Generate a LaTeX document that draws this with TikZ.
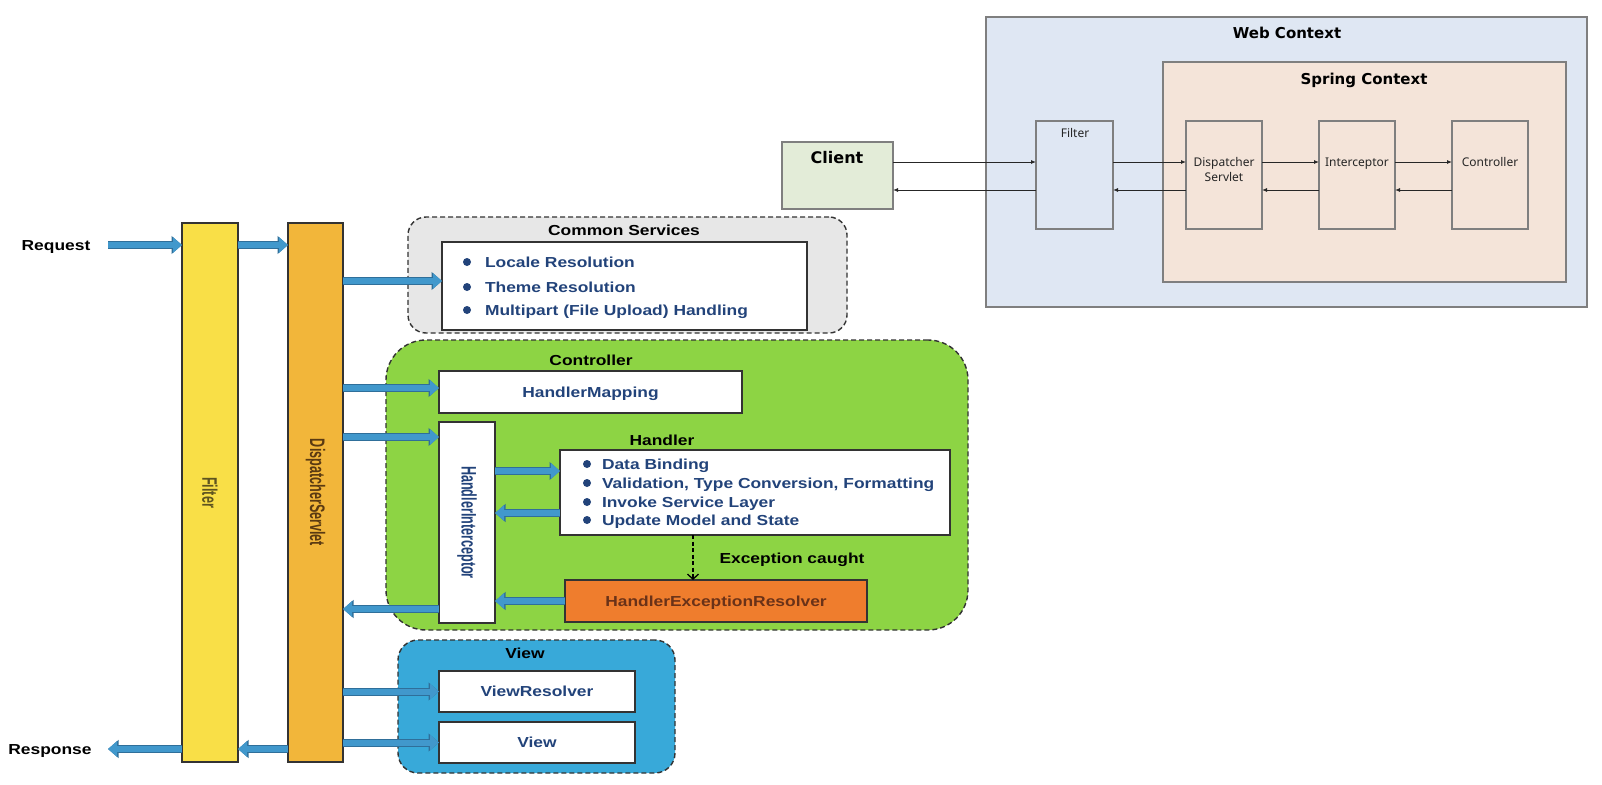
\documentclass[tikz,border=0pt]{standalone}
\usepackage{fontspec}
\setmainfont{Liberation Sans}
\newfontfamily\wf[FakeStretch=1.2]{Liberation Sans}
\newfontfamily\cf[FakeStretch=0.6]{Liberation Sans}
\newfontfamily\nf{Noto Sans}
\newfontfamily\df{DejaVu Sans}
\usetikzlibrary{arrows.meta}
\definecolor{filterY}{HTML}{F9DF47}
\definecolor{dsO}{HTML}{F2B63A}
\definecolor{csGray}{HTML}{E7E7E7}
\definecolor{ctrlG}{HTML}{8DD444}
\definecolor{viewB}{HTML}{38A9D9}
\definecolor{herO}{HTML}{EF7D2D}
\definecolor{arrowB}{HTML}{4198CC}
\definecolor{arrowD}{HTML}{2F6F9A}
\definecolor{navy}{HTML}{22437A}
\definecolor{webBlue}{HTML}{DFE7F3}
\definecolor{springP}{HTML}{F4E4D9}
\definecolor{clientG}{HTML}{E3ECD8}
\definecolor{edge}{HTML}{333333}
\definecolor{gedge}{HTML}{7F7F7F}
\definecolor{filtT}{HTML}{5E5420}
\definecolor{dsT}{HTML}{5A3A12}
\definecolor{herT}{HTML}{6A3218}
\newcommand\LFont{\wf\bfseries\fontsize{14.5}{17}\selectfont}
\newcommand\CFont{\cf\bfseries\fontsize{21}{23}\selectfont}
\newcommand\mybox[6]{\node[#2, anchor=north west, minimum width=#5pt, minimum height=#6pt] (#1) at (#3,#4) {};}
\tikzset{
  every node/.style={inner sep=0pt, outer sep=0pt},
  bar/.style={draw=edge, line width=1.5pt, fill=#1},
  zone/.style={draw=edge, line width=1.4pt, dash pattern=on 5pt off 3pt, fill=#1},
  wbox/.style={draw=edge, line width=1.6pt, fill=white},
  gbox/.style={draw=gedge, line width=1.1pt, fill=#1},
  barrow/.style={line width=6pt, draw=arrowB, -{Triangle[length=9pt,width=15pt]},
     preaction={draw=arrowD, line width=8pt, -{Triangle[length=10.5pt,width=17.5pt]}}},
  tarrow/.style={draw=black!85, line width=0.9pt, -{Latex[length=5pt,width=4pt]}},
  ltext/.style={font=\LFont, text=black, anchor=base},
  itext/.style={font=\LFont, text=navy, anchor=base west},
  ctext/.style={font=\LFont, text=navy, anchor=base},
  rtext/.style={font=\CFont, rotate=-90},
  ttext/.style={font=\df\bfseries\fontsize{15}{18}\selectfont, anchor=base},
  stext/.style={font=\nf\fontsize{12}{15}\selectfont, anchor=base, text=black!85},
}
\begin{document}
\begin{tikzpicture}[x=1pt,y=-1pt]
\useasboundingbox[fill=white] (0,0) rectangle (1602,784);

% ---------- left diagram ----------
\mybox{csout}{zone=csGray, rounded corners=18pt}{408}{217}{439}{116}
\mybox{ctrlout}{zone=ctrlG, rounded corners=40pt}{386}{340}{582}{290}
\mybox{viewout}{zone=viewB, rounded corners=20pt}{398}{640}{277}{133}

\mybox{filter}{bar=filterY}{182}{223}{56}{539}
\mybox{ds}{bar=dsO}{288}{223}{55}{539}

\mybox{csin}{wbox}{442}{242}{365}{88}
\mybox{hm}{wbox}{439}{371}{303}{42}
\mybox{hi}{wbox}{439}{422}{56}{201}
\mybox{handler}{wbox}{560}{450}{390}{85}
\mybox{her}{draw=edge, line width=1.6pt, fill=herO}{565}{580}{302}{42}
\mybox{vr}{wbox}{439}{671}{196}{41}
\mybox{view}{wbox}{439}{722}{196}{41}

\node[rtext, text=filtT] (filtertxt) at (filter.center) {Filter};
\node[rtext, text=dsT] (dstxt) at (ds.center) {DispatcherServlet};
\node[rtext, text=navy] (hitxt) at (hi.center) {HandlerInterceptor};

\node[ltext] (req) at (56,250) {Request};
\node[ltext] (resp) at (50,754) {Response};
\node[ltext] (cstitle) at (624,235) {Common Services};
\node[ltext] (ctrltitle) at (591,365) {Controller};
\node[ltext] (handtitle) at (662,445) {Handler};
\node[ltext] (exctitle) at (792,563) {Exception caught};
\node[ltext] (viewtitle) at (525,658) {View};

\node[ctext] (hmtxt) at ([yshift=-5pt]hm.center) {HandlerMapping};
\node[ctext, text=herT] (hertxt) at ([yshift=-5pt]her.center) {HandlerExceptionResolver};
\node[ctext] (vrtxt) at ([yshift=-5pt]vr.center) {ViewResolver};
\node[ctext] (viewtxt) at ([yshift=-5pt]view.center) {View};

% common services items
\foreach \yy in {262,287,310} \fill[navy] (467,\yy) circle (4pt);
\node[itext] (cs1) at (485,267) {Locale Resolution};
\node[itext] (cs2) at (485,292) {Theme Resolution};
\node[itext] (cs3) at (485,315) {Multipart (File Upload) Handling};

% handler items
\foreach \yy in {464,483,502,520} \fill[navy] (587,\yy) circle (4pt);
\node[itext] (h1) at (602,469) {Data Binding};
\node[itext] (h2) at (602,488) {Validation, Type Conversion, Formatting};
\node[itext] (h3) at (602,507) {Invoke Service Layer};
\node[itext] (h4) at (602,525) {Update Model and State};

% block arrows
\coordinate (reqs) at (108,245);
\coordinate (rese) at (108,749);
\coordinate (ycs) at (0,281);
\coordinate (yhm) at (0,388);
\coordinate (yhi) at (0,437);
\coordinate (yh1) at (0,471);
\coordinate (yh2) at (0,513);
\coordinate (yret) at (0,609);
\coordinate (exc) at (693,0);

\draw[barrow] (reqs) -- (filter.west |- reqs);
\draw[barrow] (filter.east |- reqs) -- (ds.west |- reqs);
\draw[barrow] (ds.east |- ycs) -- (csin.west |- ycs);
\draw[barrow] (ds.east |- yhm) -- (hm.west |- yhm);
\draw[barrow] (ds.east |- yhi) -- (hi.west |- yhi);
\draw[barrow] (hi.east |- yh1) -- (handler.west |- yh1);
\draw[barrow] (handler.west |- yh2) -- (hi.east |- yh2);
\draw[barrow] (her.west) -- (hi.east |- her.west);
\draw[barrow] (hi.west |- yret) -- (ds.east |- yret);
\draw[barrow] (ds.east |- vr.west) -- (vr.west);
\draw[barrow] (ds.east |- view.west) -- (view.west);
\draw[barrow] (ds.west |- rese) -- (filter.east |- rese);
\draw[barrow] (filter.west |- rese) -- (rese);

\draw[black, line width=1.3pt, dash pattern=on 4pt off 2.5pt, -{Straight Barb[length=5pt,width=11pt]}]
  (handler.south -| exc) -- (her.north -| exc);

% ---------- right diagram ----------
\mybox{webctx}{gbox=webBlue}{986}{17}{601}{290}
\mybox{springctx}{gbox=springP}{1163}{62}{403}{220}
\mybox{client}{gbox=clientG}{782}{142}{111}{67}
\mybox{filter2}{gbox=webBlue}{1036}{121}{77}{108}
\mybox{ds2}{gbox=springP}{1186}{121}{76}{108}
\mybox{int2}{gbox=springP}{1319}{121}{76}{108}
\mybox{ctrl2}{gbox=springP}{1452}{121}{76}{108}

\node[ttext] (webtitle) at (1287,38) {Web Context};
\node[ttext] (springtitle) at (1364,84) {Spring Context};
\node[ttext, font=\df\bfseries\fontsize{16}{18}\selectfont] (clienttxt) at (837,163) {Client};
\node[stext] (filter2txt) at (1075,137) {Filter};
\node[stext] (ds2txt1) at (1224,166) {Dispatcher};
\node[stext] (ds2txt2) at (1224,181) {Servlet};
\node[stext] (int2txt) at (1357,166) {Interceptor};
\node[stext] (ctrl2txt) at (1490,166) {Controller};

\coordinate (yf) at (0,162);
\coordinate (yb) at (0,190);
\draw[tarrow] (client.east |- yf) -- (filter2.west |- yf);
\draw[tarrow] (filter2.east |- yf) -- (ds2.west |- yf);
\draw[tarrow] (ds2.east |- yf) -- (int2.west |- yf);
\draw[tarrow] (int2.east |- yf) -- (ctrl2.west |- yf);
\draw[tarrow] (ctrl2.west |- yb) -- (int2.east |- yb);
\draw[tarrow] (int2.west |- yb) -- (ds2.east |- yb);
\draw[tarrow] (ds2.west |- yb) -- (filter2.east |- yb);
\draw[tarrow] (filter2.west |- yb) -- (client.east |- yb);
\end{tikzpicture}
\end{document}
